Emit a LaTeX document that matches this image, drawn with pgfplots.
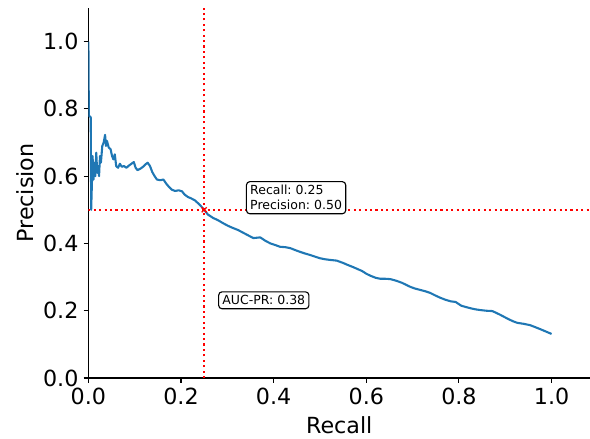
\documentclass[border=0pt]{standalone}
\usepackage{fontspec}
\setmainfont{DejaVu Sans}
\usepackage{pgfplots}
\pgfplotsset{compat=1.18}
\frenchspacing

\definecolor{mplblue}{HTML}{1F77B4}

\pgfplotstableread{
rec prec
0.000 1.000
0.001 0.780
0.005 0.775
0.006 0.500
0.008 0.600
0.009 0.660
0.011 0.590
0.013 0.640
0.015 0.600
0.017 0.670
0.019 0.610
0.021 0.630
0.023 0.600
0.025 0.660
0.027 0.640
0.030 0.690
0.033 0.700
0.036 0.723
0.038 0.690
0.040 0.705
0.044 0.685
0.048 0.680
0.051 0.660
0.054 0.650
0.057 0.665
0.060 0.630
0.064 0.625
0.068 0.637
0.072 0.628
0.077 0.630
0.082 0.625
0.088 0.632
0.094 0.638
0.098 0.642
0.102 0.625
0.106 0.618
0.112 0.622
0.118 0.628
0.123 0.635
0.128 0.640
0.133 0.630
0.138 0.612
0.143 0.600
0.148 0.590
0.155 0.588
0.162 0.590
0.168 0.578
0.174 0.568
0.180 0.560
0.187 0.556
0.195 0.558
0.202 0.555
0.208 0.545
0.215 0.538
0.222 0.534
0.230 0.528
0.238 0.518
0.245 0.508
0.250 0.500
0.258 0.486
0.269 0.476
0.280 0.469
0.291 0.460
0.302 0.452
0.312 0.446
0.323 0.440
0.334 0.432
0.345 0.424
0.356 0.416
0.371 0.418
0.382 0.408
0.393 0.400
0.404 0.395
0.414 0.390
0.425 0.389
0.436 0.386
0.447 0.380
0.457 0.375
0.468 0.370
0.478 0.366
0.489 0.361
0.500 0.356
0.511 0.353
0.522 0.351
0.536 0.349
0.550 0.342
0.560 0.336
0.571 0.330
0.581 0.324
0.591 0.318
0.600 0.310
0.609 0.304
0.620 0.298
0.630 0.295
0.641 0.295
0.652 0.294
0.665 0.289
0.677 0.283
0.686 0.277
0.695 0.271
0.705 0.266
0.716 0.262
0.727 0.258
0.738 0.253
0.748 0.246
0.759 0.239
0.770 0.233
0.782 0.228
0.793 0.226
0.805 0.215
0.815 0.211
0.826 0.207
0.836 0.204
0.846 0.202
0.859 0.200
0.872 0.199
0.880 0.194
0.889 0.188
0.900 0.180
0.910 0.173
0.918 0.168
0.926 0.164
0.940 0.161
0.954 0.157
0.965 0.151
0.976 0.145
0.988 0.138
1.000 0.131
}\prcurve

\begin{document}
\begin{tikzpicture}
\begin{axis}[
  at={(0,0)}, anchor=south west,
  scale only axis,
  width=361.15pt, height=266.4pt,
  xmin=0, xmax=1.083,
  ymin=0, ymax=1.1,
  axis x line*=bottom,
  axis y line*=left,
  axis line style={-, line width=0.8pt, black},
  tick align=outside,
  major tick length=3.5pt,
  every tick/.style={black, line width=0.8pt},
  xtick={0,0.2,0.4,0.6,0.8,1.0},
  ytick={0,0.2,0.4,0.6,0.8,1.0},
  minor tick num=0,
  /pgf/number format/.cd, fixed, fixed zerofill, precision=1, assume math mode=true,
  /pgfplots/.cd,
  ticklabel style={font=\fontsize{16}{19}\selectfont},
  xticklabel style={inner sep=0pt, yshift=-3.5pt},
  yticklabel style={inner sep=0pt, xshift=-3.5pt},
  xlabel={Recall},
  ylabel={Precision},
  every axis x label/.style={at={(axis description cs:0.5,-0.1513)}, anchor=base,
    font=\fontsize{16}{19}\selectfont},
  every axis y label/.style={at={(axis description cs:-0.1102,0.5)}, rotate=90, anchor=base,
    font=\fontsize{16}{19}\selectfont},
]
\addplot[mplblue, line width=1.5pt, line join=round] table[x=rec, y=prec] {\prcurve};
\addplot[red, line width=1.5pt, dash pattern=on 1.5pt off 2.4pt] coordinates {(0.25,0) (0.25,1.1)};
\addplot[red, line width=1.5pt, dash pattern=on 1.5pt off 2.4pt] coordinates {(0,0.5) (1.083,0.5)};
\addplot[red, only marks, mark=x, mark size=2.6pt, line width=1pt] coordinates {(0.25,0.5)};
\node[anchor=west, draw=black, line width=0.8pt, rounded corners=2.5pt, fill=white,
  align=left, inner sep=2.7pt, font=\fontsize{9}{10.8}\selectfont]
  at (axis cs:0.340,0.536) {Recall: 0.25\\Precision: 0.50};
\node[anchor=west, draw=black, line width=0.8pt, rounded corners=2.5pt, fill=white,
  inner sep=2.7pt, font=\fontsize{9}{10.8}\selectfont]
  at (axis cs:0.280,0.231) {AUC-PR: 0.38};
\end{axis}
\pgfresetboundingbox
\useasboundingbox (-63.65pt,-43.2pt) rectangle (361.15pt,272.16pt);
\end{tikzpicture}
\end{document}
